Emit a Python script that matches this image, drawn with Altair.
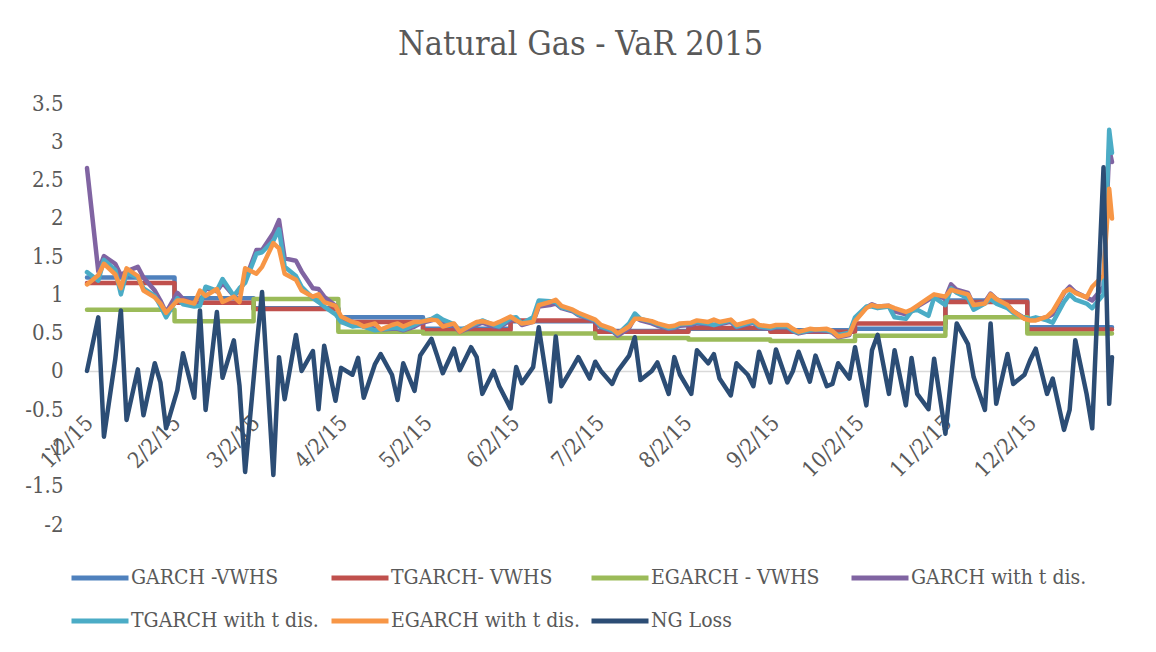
import altair as alt
import pandas as pd

FONT = "DejaVu Serif Condensed"
TEXT = "#595959"

SERIES = ["GARCH -VWHS", "TGARCH- VWHS", "EGARCH - VWHS", "GARCH with t dis.",
          "TGARCH with t dis.", "EGARCH with t dis.", "NG Loss"]
COLORS = ["#4F81BD", "#C0504D", "#9BBB59", "#8064A2", "#4BACC6", "#F79646", "#2C4D75"]

# Monthly re-estimated VaR (constant within each month); last entry = year end
MONTH_STARTS = ["2015-01-02", "2015-02-02", "2015-03-02", "2015-04-01", "2015-05-01",
                "2015-06-01", "2015-07-01", "2015-08-03", "2015-09-01", "2015-10-01",
                "2015-11-02", "2015-12-01", "2015-12-31"]
GARCH_VWHS = [1.22, 0.95, 0.82, 0.70, 0.55, 0.65, 0.52, 0.55, 0.53, 0.55, 0.92, 0.57, 0.57]
TGARCH_VWHS = [1.15, 0.89, 0.81, 0.64, 0.53, 0.66, 0.51, 0.56, 0.51, 0.62, 0.90, 0.54, 0.54]
EGARCH_VWHS = [0.80, 0.65, 0.94, 0.51, 0.49, 0.49, 0.43, 0.41, 0.39, 0.46, 0.70, 0.49, 0.49]

# Every second trading day of 2015 plus the last day
bdays = pd.bdate_range("2015-01-02", "2015-12-31")
DAYS = [d.strftime("%Y-%m-%d") for d in bdays[::2]] + ["2015-12-31"]

GARCH_T = [2.65, 1.30, 1.50, 1.40, 1.25, 1.30, 1.36, 1.22, 1.05, 0.92,
           0.76, 1.02, 0.94, 0.88, 0.87, 1.08, 1.04, 1.15, 0.98, 1.05,
           1.18, 1.58, 1.58, 1.80, 1.97, 1.47, 1.44, 1.30, 1.08, 1.07,
           0.97, 0.85, 0.68, 0.64, 0.61, 0.58, 0.55, 0.54, 0.55, 0.55,
           0.53, 0.58, 0.62, 0.66, 0.68, 0.64, 0.59, 0.51, 0.57, 0.60,
           0.63, 0.58, 0.57, 0.66, 0.68, 0.60, 0.64, 0.84, 0.86, 0.88,
           0.82, 0.78, 0.73, 0.68, 0.64, 0.57, 0.52, 0.46, 0.56, 0.70,
           0.66, 0.62, 0.59, 0.55, 0.56, 0.59, 0.60, 0.62, 0.61, 0.60,
           0.61, 0.64, 0.57, 0.61, 0.63, 0.57, 0.55, 0.57, 0.57, 0.52,
           0.49, 0.52, 0.52, 0.52, 0.50, 0.44, 0.47, 0.66, 0.83, 0.87,
           0.84, 0.85, 0.78, 0.74, 0.78, 0.84, 0.93, 0.98, 0.95, 1.13,
           1.06, 1.02, 0.86, 0.90, 1.01, 0.94, 0.86, 0.78, 0.69, 0.67,
           0.67, 0.70, 0.74, 1.02, 1.10, 1.03, 0.96, 0.92, 1.10, 2.90,
           2.73]
TGARCH_T = [1.29, 1.18, 1.45, 1.32, 1.00, 1.28, 1.22, 1.08, 0.98, 0.85,
            0.70, 0.95, 0.87, 0.84, 0.85, 1.10, 1.05, 1.20, 0.98, 1.08,
            1.15, 1.53, 1.55, 1.70, 1.85, 1.36, 1.24, 1.10, 0.95, 0.90,
            0.84, 0.74, 0.64, 0.58, 0.59, 0.58, 0.53, 0.54, 0.56, 0.56,
            0.54, 0.60, 0.64, 0.68, 0.72, 0.67, 0.61, 0.53, 0.59, 0.62,
            0.66, 0.60, 0.58, 0.69, 0.70, 0.62, 0.70, 0.92, 0.91, 0.90,
            0.83, 0.79, 0.74, 0.69, 0.66, 0.58, 0.53, 0.48, 0.62, 0.75,
            0.68, 0.64, 0.61, 0.56, 0.57, 0.61, 0.62, 0.64, 0.62, 0.60,
            0.62, 0.66, 0.58, 0.62, 0.64, 0.58, 0.56, 0.58, 0.58, 0.53,
            0.50, 0.53, 0.54, 0.53, 0.51, 0.47, 0.50, 0.70, 0.84, 0.84,
            0.82, 0.84, 0.70, 0.68, 0.78, 0.80, 0.72, 0.96, 0.86, 1.08,
            1.02, 0.95, 0.80, 0.88, 0.94, 0.88, 0.82, 0.76, 0.69, 0.68,
            0.70, 0.66, 0.63, 0.90, 1.00, 0.93, 0.88, 0.82, 1.00, 3.15,
            2.85]
EGARCH_T = [1.13, 1.25, 1.40, 1.26, 1.08, 1.34, 1.24, 1.05, 0.96, 0.88,
            0.76, 0.92, 0.92, 0.88, 1.05, 0.98, 1.07, 0.90, 0.97, 0.90,
            1.34, 1.27, 1.36, 1.67, 1.60, 1.27, 1.19, 1.05, 0.97, 1.00,
            0.90, 0.85, 0.71, 0.64, 0.62, 0.58, 0.62, 0.54, 0.60, 0.62,
            0.58, 0.64, 0.64, 0.67, 0.66, 0.58, 0.62, 0.51, 0.60, 0.64,
            0.65, 0.61, 0.64, 0.71, 0.66, 0.62, 0.64, 0.86, 0.90, 0.93,
            0.85, 0.80, 0.76, 0.70, 0.67, 0.60, 0.55, 0.49, 0.58, 0.68,
            0.68, 0.65, 0.62, 0.58, 0.59, 0.62, 0.63, 0.66, 0.64, 0.67,
            0.64, 0.67, 0.60, 0.64, 0.66, 0.60, 0.58, 0.60, 0.60, 0.55,
            0.51, 0.55, 0.54, 0.55, 0.52, 0.45, 0.48, 0.65, 0.82, 0.86,
            0.84, 0.85, 0.82, 0.77, 0.80, 0.85, 0.95, 1.00, 0.97, 1.06,
            1.04, 1.00, 0.86, 0.88, 1.00, 0.94, 0.86, 0.78, 0.68, 0.66,
            0.66, 0.71, 0.78, 1.03, 1.07, 1.02, 0.96, 1.10, 1.25, 2.38,
            1.99]
NG_LOSS = [0.00, 0.70, -0.86, 0.15, 0.79, -0.64, 0.02, -0.58, 0.10, -0.15,
           -0.75, -0.25, 0.23, -0.35, 0.79, -0.51, 0.77, -0.09, 0.40, -0.19,
           -1.32, 0.30, 1.03, -1.36, 0.18, -0.37, 0.47, 0.00, 0.26, -0.50,
           0.33, -0.39, 0.04, -0.05, 0.17, -0.35, 0.09, 0.22, -0.05, -0.38,
           0.10, -0.26, 0.20, 0.42, 0.20, -0.03, 0.29, 0.01, 0.31, 0.18,
           -0.30, 0.00, -0.20, -0.49, 0.05, -0.16, 0.05, 0.57, -0.40, 0.45,
           -0.20, 0.05, 0.18, -0.10, 0.12, 0.00, -0.17, 0.00, 0.20, 0.44,
           -0.12, 0.00, 0.11, -0.30, 0.18, -0.05, -0.30, 0.27, 0.10, 0.22,
           -0.10, -0.32, 0.10, -0.05, -0.20, 0.25, -0.15, 0.28, -0.15, 0.00,
           0.25, -0.14, 0.20, -0.20, -0.17, 0.10, -0.10, 0.31, -0.45, 0.27,
           0.47, -0.30, 0.27, -0.45, 0.17, -0.30, -0.50, 0.16, -0.82, -0.10,
           0.62, 0.35, -0.08, -0.51, 0.62, -0.43, 0.22, -0.17, -0.05, 0.14,
           0.29, -0.30, -0.10, -0.77, -0.51, 0.40, -0.30, -0.75, 2.66, -0.43,
           0.18]

for arr in (GARCH_T, TGARCH_T, EGARCH_T, NG_LOSS):
    assert len(arr) == len(DAYS), (len(arr), len(DAYS))

step_rows = []
for name, vals in zip(SERIES[:3], (GARCH_VWHS, TGARCH_VWHS, EGARCH_VWHS)):
    step_rows += [{"date": d, "value": v, "series": name} for d, v in zip(MONTH_STARTS, vals)]
step_df = pd.DataFrame(step_rows)

daily_rows = []
for name, vals in zip(SERIES[3:], (GARCH_T, TGARCH_T, EGARCH_T, NG_LOSS)):
    daily_rows += [{"date": d, "value": v, "series": name} for d, v in zip(DAYS, vals)]
daily_df = pd.DataFrame(daily_rows)

PLOT_H = 421
ZERO_OFFSET = -round(PLOT_H * 2 / 5.5)

x_enc = alt.X(
    "date:T",
    scale=alt.Scale(type="utc", nice=False,
                    domain=[alt.DateTime(year=2015, month=1, date=2, utc=True),
                            alt.DateTime(year=2015, month=12, date=31, utc=True)]),
    axis=alt.Axis(
        values=[alt.DateTime(year=2015, month=m, date=2, utc=True) for m in range(1, 13)],
        labelExpr="utcFormat(datum.value, '%-m/%-d/%y')",
        labelAngle=-45, labelAlign="right", labelBaseline="middle",
        labelFont=FONT, labelFontSize=22, labelColor=TEXT,
        labelPadding=48, labelOffset=2,
        labelOverlap=False, labelFlush=False,
        ticks=False, grid=False, domainColor="#D9D9D9", domainWidth=1.5,
        offset=ZERO_OFFSET, title=None),
)
y_enc = alt.Y(
    "value:Q",
    scale=alt.Scale(domain=[-2, 3.5], nice=False, zero=False),
    axis=alt.Axis(values=[-2, -1.5, -1, -0.5, 0, 0.5, 1, 1.5, 2, 2.5, 3, 3.5],
                  labelExpr="'' + datum.value", labelFont=FONT, labelFontSize=22,
                  labelColor=TEXT, labelPadding=24, ticks=False, domain=False,
                  grid=False, title=None),
)
color_enc = alt.Color(
    "series:N",
    scale=alt.Scale(domain=SERIES, range=COLORS),
    legend=alt.Legend(
        title=None, orient="none", legendX=-18, legendY=444,
        direction="horizontal", columns=4, gridAlign="all",
        symbolType="stroke", symbolSize=3249, symbolStrokeWidth=5,
        labelFont=FONT, labelFontSize=21, labelColor=TEXT, labelOffset=0,
        columnPadding=0, rowPadding=2, labelLimit=400),
)


def series_layer(name, df, interp):
    return alt.Chart(df).transform_filter(alt.datum.series == name).mark_line(
        strokeWidth=4.5, interpolate=interp, strokeCap="round", strokeJoin="round"
    ).encode(x=x_enc, y=y_enc, color=color_enc)


layers = [series_layer(n, step_df, "step-after") for n in SERIES[:3]]
layers += [series_layer(n, daily_df, "linear") for n in SERIES[3:]]

chart = alt.layer(*layers).properties(
    width=1025, height=PLOT_H,
    title=alt.TitleParams("Natural Gas - VaR 2015", font=FONT, fontSize=34,
                          fontWeight="normal", color=TEXT, anchor="middle",
                          offset=30, dx=-19),
    autosize=alt.AutoSizeParams(type="none"),
    padding={"left": 79, "top": 95, "right": 36, "bottom": 120},
).configure(background="white").configure_view(stroke=None)

chart.save("out.html", embed_options={"renderer": "svg", "actions": False})
